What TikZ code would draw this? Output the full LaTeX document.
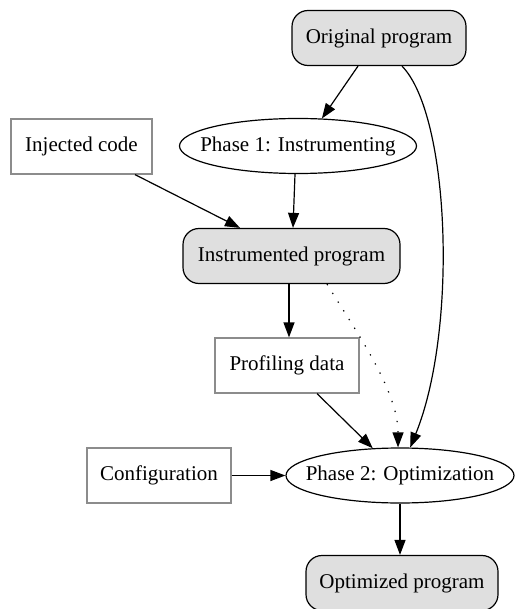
\documentclass[tikz,border=0pt]{standalone}
\usepackage{fontspec}
\setmainfont{Liberation Serif}
\usetikzlibrary{arrows.meta,shapes.geometric,calc}
\begin{document}
\begin{tikzpicture}[x=1pt,y=-1pt,
  every node/.style={font=\fontsize{21pt}{24pt}\selectfont, inner sep=0pt},
  prog/.style={draw=black, fill=gray!25, rounded corners=16pt, line width=1.2pt, minimum width=#1, minimum height=55pt},
  phase/.style={draw=black, ellipse, line width=1.2pt, inner xsep=-20pt, inner ysep=-5pt, minimum width=#1, minimum height=55pt},
  data/.style={draw=gray!90, rectangle, line width=1.2pt, minimum width=#1, minimum height=55pt},
  edge/.style={draw=black, line width=1.2pt, -{Triangle[length=15pt,width=11pt]}},
  dotedge/.style={edge, dash pattern=on 1.3pt off 9pt}]
\useasboundingbox (0,0) rectangle (514,609);
\node[prog=174pt] (orig) at (379,38) {Original program};
\node[phase=237pt] (ph1) at (298,146) {Phase 1: Instrumenting};
\node[data=141pt] (inj) at (81.5,146.5) {Injected code};
\node[prog=217pt] (instr) at (291.5,256) {Instrumented program};
\node[data=144pt] (prof) at (287,365.5) {Profiling data};
\node[phase=228pt] (ph2) at (400,475.5) {Phase 2: Optimization};
\node[data=144pt] (conf) at (159,475.5) {Configuration};
\node[prog=192pt] (opt) at (402,583) {Optimized program};

\draw[edge] ($(orig.south)+(-21,0)$) -- (ph1.49);
\draw[edge] ($(orig.south)+(23,0)$) .. controls (450,115) and (458,330) .. (ph2.70);
\draw[edge] ($(inj.south)+(53.5,0)$) -- ($(instr.north)+(-51.5,0)$);
\draw[edge] ($(ph1.south)+(-3,0)$) -- ($(instr.north)+(1.5,0)$);
\draw[edge] ($(instr.south)+(-2.5,0)$) -- ($(prof.north)+(2,0)$);
\draw[dotedge] ($(instr.south)+(35.5,0)$) .. controls (355,330) and (398,390) .. (ph2.94);
\draw[edge] ($(prof.south)+(30,0)$) -- (ph2.135);
\draw[edge] (conf.east) -- (ph2.west);
\draw[edge] (ph2.south) -- (ph2.south |- opt.north);
\end{tikzpicture}
\end{document}
